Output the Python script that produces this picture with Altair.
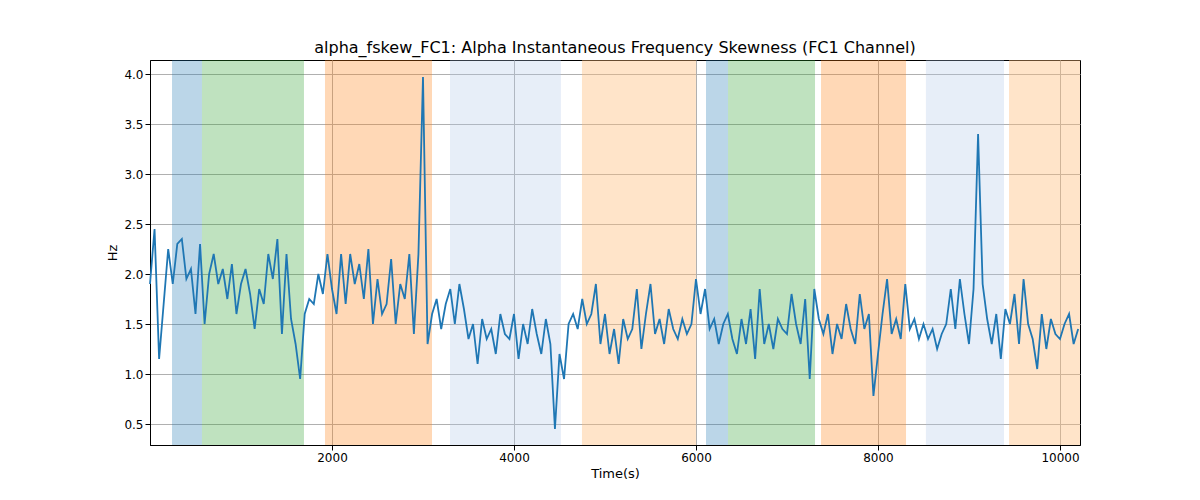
import altair as alt
import pandas as pd

values = [
1.9,2.45,1.15,1.7,2.25,1.9,2.3,2.35,1.95,2.05,
1.6,2.3,1.5,2.0,2.2,1.9,2.05,1.75,2.1,1.6,
1.9,2.05,1.8,1.45,1.85,1.7,2.2,1.95,2.35,1.4,
2.2,1.55,1.3,0.95,1.6,1.75,1.7,2.0,1.8,2.2,
1.85,1.6,2.2,1.7,2.2,1.9,2.1,1.75,2.25,1.5,
1.95,1.6,1.7,2.15,1.5,1.9,1.75,2.2,1.4,2.2,
3.97,1.3,1.6,1.75,1.45,1.7,1.85,1.5,1.9,1.65,
1.35,1.5,1.1,1.55,1.35,1.45,1.2,1.6,1.4,1.35,
1.6,1.15,1.5,1.3,1.65,1.4,1.2,1.55,1.3,0.45,
1.2,0.95,1.5,1.6,1.45,1.75,1.5,1.6,1.9,1.3,
1.6,1.2,1.45,1.1,1.55,1.35,1.45,1.85,1.25,1.6,
1.9,1.4,1.55,1.3,1.65,1.45,1.35,1.55,1.4,1.5,
1.95,1.6,1.85,1.45,1.55,1.3,1.5,1.6,1.35,1.2,
1.55,1.3,1.65,1.15,1.85,1.3,1.5,1.25,1.55,1.45,
1.4,1.8,1.5,1.3,1.75,0.95,1.85,1.55,1.4,1.6,
1.2,1.5,1.35,1.7,1.45,1.3,1.8,1.45,1.6,0.78,
1.2,1.6,1.95,1.4,1.55,1.35,1.9,1.45,1.55,1.35,
1.5,1.35,1.45,1.25,1.4,1.5,1.85,1.45,1.95,1.6,
1.3,1.85,3.4,1.9,1.55,1.3,1.6,1.15,1.65,1.5,
1.8,1.3,1.95,1.5,1.35,1.05,1.6,1.25,1.55,1.4,
1.35,1.5,1.6,1.3,1.45]
times = [i * 50 for i in range(len(values))]

band_start = [242, 571, 1923, 3297, 4747, 6110, 6352, 7374, 8527, 9440]
band_end = [571, 1692, 3099, 4516, 6000, 6352, 7308, 8308, 9385, 10220]
band_color = ["#1f77b4", "#2ca02c", "#ff7f0e", "#aec7e8", "#ffbb78",
              "#1f77b4", "#2ca02c", "#ff7f0e", "#aec7e8", "#ffbb78"]
band_opacity = [0.3, 0.3, 0.3, 0.3, 0.4, 0.3, 0.3, 0.3, 0.3, 0.4]

line_df = pd.DataFrame({"t": times, "v": values})
band_df = pd.DataFrame({"s": band_start, "e": band_end, "c": band_color, "o": band_opacity})

xs = alt.Scale(domain=[0, 10220], nice=False, zero=False)
ys = alt.Scale(domain=[0.29, 4.14], nice=False, zero=False)

bands = alt.Chart(band_df).mark_rect().encode(
    x=alt.X("s:Q", scale=xs), x2="e:Q",
    color=alt.Color("c:N", scale=None), opacity=alt.Opacity("o:Q", scale=None))

line = alt.Chart(line_df).mark_line(color="#1f77b4", strokeWidth=1.8).encode(
    x=alt.X("t:Q", scale=xs, title="Time(s)",
            axis=alt.Axis(values=[2000, 4000, 6000, 8000, 10000], format="d", grid=True, gridColor="#b0b0b0")),
    y=alt.Y("v:Q", scale=ys, title="Hz",
            axis=alt.Axis(values=[0.5, 1.0, 1.5, 2.0, 2.5, 3.0, 3.5, 4.0], format=".1f",
                          grid=True, gridColor="#b0b0b0")))

chart = alt.layer(bands, line).properties(
    width=930, height=385,
    autosize=alt.AutoSizeParams(type="none"),
    padding={"left": 142, "top": 52, "right": 100, "bottom": 50},
    title=alt.TitleParams("alpha_fskew_FC1: Alpha Instantaneous Frequency Skewness (FC1 Channel)",
                          fontSize=16, fontWeight="normal", font="DejaVu Sans")
).configure_axis(labelFont="DejaVu Sans", titleFont="DejaVu Sans", labelFontSize=12,
                 titleFontSize=13, titleFontWeight="normal", domainColor="black",
                 tickColor="black", labelColor="black"
).configure_view(stroke="black")

chart.save("out.html", embed_options={"renderer": "svg", "actions": False})
